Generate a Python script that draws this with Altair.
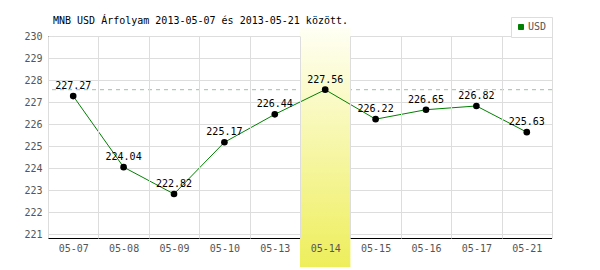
import altair as alt
import pandas as pd

# ---- data ----
dates = ["05-07", "05-08", "05-09", "05-10", "05-13", "05-14", "05-15", "05-16", "05-17", "05-21"]
rates = [227.27, 224.04, 222.82, 225.17, 226.44, 227.56, 226.22, 226.65, 226.82, 225.63]
highlight = ["05-14"]
y_ticks = [221, 222, 223, 224, 225, 226, 227, 228, 229, 230]
y_domain = [220.82, 230]
series_name = "USD"
title_text = "MNB USD Árfolyam 2013-05-07 és 2013-05-21 között."

W, H = 504, 202
MONO = "DejaVu Sans Mono"

df = pd.DataFrame({
    "date": dates,
    "rate": rates,
    "series": series_name,
    "label": [f"{v:.2f}" for v in rates],
})
df_max = pd.DataFrame({"v": [max(rates)]})
df_hl = pd.DataFrame({"date": highlight})

xscale = alt.Scale(domain=dates, paddingInner=0, paddingOuter=0)
yscale = alt.Scale(domain=y_domain, nice=False, zero=False)

xaxis = alt.Axis(title=None, tickBand="extent", domain=False, ticks=False, tickSize=0,
                 labelPadding=5, grid=True, gridColor="#dddddd", labelAngle=0,
                 labelColor="#555555", labelFont=MONO, labelFontSize=10, zindex=1)
yaxis = alt.Axis(title=None, values=y_ticks, domain=True, domainColor="black", ticks=False,
                 tickSize=0, labelPadding=6, grid=True, gridColor="#dddddd", format="d",
                 labelColor="#555555", labelFont=MONO, labelFontSize=10)

X = alt.X("date:N", scale=xscale, axis=xaxis, sort=dates)

bottom_line = alt.Chart(df).mark_rule(color="black", strokeWidth=1).encode(
    x=alt.value(0), x2=alt.value(W), y=alt.value(H + 0.5)
)

max_rule = alt.Chart(df_max).mark_rule(color="#9fbf9f", strokeDash=[4, 4], strokeWidth=1).encode(
    y=alt.Y("v:Q", scale=yscale, axis=yaxis)
)

band = alt.Chart(df_hl).mark_rect(
    fill=alt.Gradient(
        gradient="linear",
        stops=[alt.GradientStop(color="#fffff4", offset=0),
               alt.GradientStop(color="#eeee5c", offset=1)],
        x1=0, x2=0, y1=0, y2=1,
    ),
    clip=False,
).encode(x=X, y=alt.value(-8), y2=alt.value(231))

line = alt.Chart(df).mark_line(strokeWidth=1).encode(
    x=X,
    y=alt.Y("rate:Q", scale=yscale, axis=yaxis),
    color=alt.Color(
        "series:N",
        scale=alt.Scale(domain=[series_name], range=["#008000"]),
        legend=alt.Legend(
            title=None, orient="none", legendX=463, legendY=-19,
            symbolType="square", symbolSize=25, labelFont=MONO, labelFontSize=10,
            labelColor="#555555", strokeColor="#dddddd", fillColor="white", padding=5,
            labelOffset=2,
            symbolStrokeWidth=1,
        ),
    ),
)

points = alt.Chart(df).mark_point(filled=True, color="black", size=44, opacity=1).encode(
    x=X, y=alt.Y("rate:Q", scale=yscale, axis=yaxis)
)

labels = alt.Chart(df).mark_text(font=MONO, fontSize=10, color="black", dy=-7,
                                 baseline="alphabetic", align="center").encode(
    x=X, y=alt.Y("rate:Q", scale=yscale, axis=yaxis), text="label:N"
)

chart = alt.layer(bottom_line, max_rule, band, line, points, labels).properties(
    width=W, height=H,
    title=alt.TitleParams(title_text, anchor="start", frame="group", dx=5, dy=23, offset=6,
                          font=MONO, fontSize=10, fontWeight="normal", color="black",
                          baseline="alphabetic"),
    autosize=alt.AutoSizeParams(type="none"),
    padding={"left": 48, "top": 36, "right": 48, "bottom": 32},
).configure_view(stroke=None).configure_legend(
    symbolFillColor="#008000", symbolStrokeColor="#005000"
)

chart.save("out.html", embed_options={"renderer": "svg", "actions": False})
